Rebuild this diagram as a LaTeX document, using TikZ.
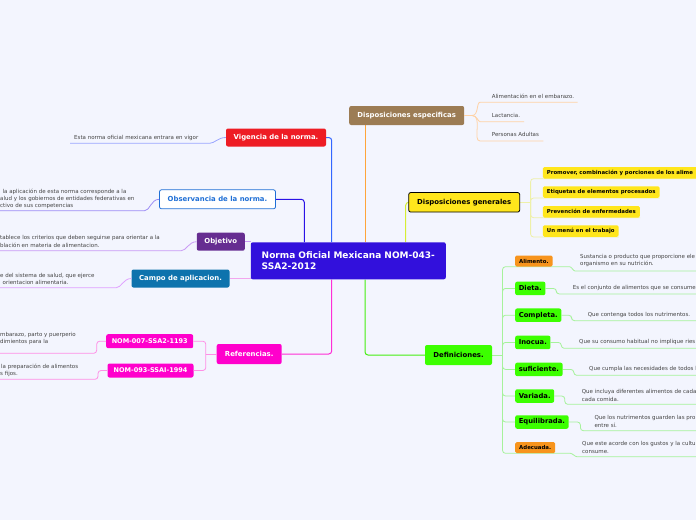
\documentclass[tikz,border=0pt]{standalone}
\usepackage{fontspec}
\setmainfont{DejaVu Sans}
\usetikzlibrary{calc}
\pgfdeclarelayer{back}
\pgfsetlayers{back,main}
\definecolor{bg}{HTML}{F3F5FE}
\definecolor{cenf}{HTML}{3210DC}
\definecolor{redf}{HTML}{EE1C24}
\definecolor{obsb}{HTML}{1F6FD6}
\definecolor{objf}{HTML}{662D91}
\definecolor{campf}{HTML}{0E73AD}
\definecolor{magf}{HTML}{FF00CC}
\definecolor{brownf}{HTML}{9C7C54}
\definecolor{yelf}{HTML}{FFE61C}
\definecolor{grnf}{HTML}{3CFF00}
\definecolor{orgf}{HTML}{F7941D}
\definecolor{txt}{HTML}{444444}
\definecolor{vigc}{HTML}{3366FF}
\definecolor{vigl}{HTML}{9AA6FF}
\definecolor{obsc}{HTML}{2A12E6}
\definecolor{obsl}{HTML}{9C8CF5}
\definecolor{objc}{HTML}{C99AF5}
\definecolor{campc}{HTML}{F2A6EE}
\definecolor{campl}{HTML}{E0A0FF}
\definecolor{refc}{HTML}{FF2ED6}
\definecolor{nomc}{HTML}{FF8FE6}
\definecolor{espc}{HTML}{FFA53A}
\definecolor{espl}{HTML}{FFD2A6}
\definecolor{genc}{HTML}{D6EE35}
\definecolor{genl}{HTML}{EEF0A8}
\definecolor{defc}{HTML}{44EE11}
\definecolor{defl}{HTML}{A6F29B}
\begin{document}
\begin{tikzpicture}[x=1pt,y=-1pt,
  box/.style={rounded corners=2pt, inner sep=0pt, text=white, font=\bfseries\fontsize{6.9}{8}\selectfont},
  ybox/.style={rounded corners=1.5pt, fill=yelf, inner xsep=4pt, inner ysep=0pt, minimum height=11.5pt, text=black, font=\bfseries\fontsize{5.4}{6.5}\selectfont},
  gbox/.style={rounded corners=2pt, fill=grnf, inner xsep=3.6pt, inner ysep=0pt, minimum height=13.5pt, text=black, font=\bfseries\fontsize{6.8}{8}\selectfont},
  obox/.style={rounded corners=1.5pt, fill=orgf, inner xsep=4pt, inner ysep=0pt, minimum height=11pt, text=black, font=\bfseries\fontsize{5.4}{6.5}\selectfont},
  desc/.style={inner sep=0pt, text=txt, font=\fontsize{5.5}{7.2}\selectfont, align=left},
  con/.style={line width=1pt, rounded corners=3pt},
  leaf/.style={line width=0.8pt, rounded corners=3pt}]
\begin{pgfonlayer}{back}
\fill[bg] (0,0) rectangle (696,520);
\end{pgfonlayer}
\useasboundingbox (0,0) rectangle (696,520);

% central
\node[box, fill=cenf, minimum width=195pt, minimum height=37pt, align=left,
  font=\bfseries\fontsize{9}{11}\selectfont] (cen) at (348.3,260.8)
  {Norma Oficial Mexicana NOM-043-\\SSA2-2012};
\coordinate (cenV) at ([xshift=-16.6pt]cen.north);
\coordinate (cenO) at ([xshift=-44pt]cen.north);
\coordinate (cenE) at ([xshift=16.7pt]cen.north);
\coordinate (cenG) at ([xshift=57.4pt]cen.north);
\coordinate (cenR) at ([xshift=-16.6pt]cen.south);
\coordinate (cenD) at ([xshift=16.7pt]cen.south);

% main branches
\node[box, fill=redf, minimum width=100pt, minimum height=18pt] (vig) at (276,137.5) {Vigencia de la norma.};
\node[box, fill=white, draw=obsb, line width=0.8pt, text=obsb, minimum width=116pt, minimum height=19pt] (obs) at (217.5,199.3) {Observancia de la norma.};
\node[box, fill=objf, minimum width=48pt, minimum height=18pt] (obj) at (220.8,241.7) {Objetivo};
\node[box, fill=campf, minimum width=98pt, minimum height=18pt] (campo) at (180.5,278.5) {Campo de aplicacion.};
\node[box, fill=magf, minimum width=65pt, minimum height=20pt] (ref) at (249.2,354) {Referencias.};
\node[box, fill=magf, minimum width=87pt, minimum height=14pt, font=\bfseries\fontsize{6.5}{7.5}\selectfont] (n7) at (149.7,341.2) {NOM-007-SSA2-1193};
\node[box, fill=magf, minimum width=86pt, minimum height=14pt, font=\bfseries\fontsize{6.5}{7.5}\selectfont] (n93) at (150.5,370.5) {NOM-093-SSAI-1994};
\node[box, fill=brownf, minimum width=115pt, minimum height=19pt] (esp) at (406.7,115.5) {Disposiciones especificas};
\node[box, fill=yelf, draw=black, line width=0.8pt, text=black, minimum width=111pt, minimum height=19.5pt] (gen) at (464.2,202.3) {Disposiciones generales};
\node[box, fill=grnf, text=black, minimum width=67pt, minimum height=20pt] (defn) at (458.5,355) {Definiciones.};

\begin{pgfonlayer}{back}
\draw[con, vigc] (vig.east) -| (cenV);
\draw[con, obsc] (obs.east) -| (cenO);
\draw[con, objc] (obj.east) -- (obj.east -| cen.west);
\draw[con, campc] (campo.east) -- (campo.east -| cen.west);
\draw[con, refc] (ref.east) -| (cenR);
\draw[con, espc] (cenE) -- (cenE |- esp.south);
\draw[con, genc] (cenG) |- (gen.west);
\draw[con, defc] (cenD) |- (defn.west);
\end{pgfonlayer}

% left leaves
\node[desc, anchor=west] (tv) at (74,137.7) {Esta norma oficial mexicana entrara en vigor};
\coordinate (tva) at (206.7,143.3); \coordinate (tvb) at (70,143.3);
\draw[leaf, vigl] (vig.west) to[out=180,in=0] (tva) -- (tvb);

\node[desc, anchor=west] (to) at (0,198.6) {\hspace*{2.5pt}la aplicación de esta norma corresponde a la\\alud y los gobiernos de entidades federativas en\\ctivo de sus competencias};
\coordinate (toa) at (141.7,210.7); \coordinate (tob) at (0,210.7);
\draw[leaf, obsl] (obs.west) to[out=180,in=0] (toa) -- (tob);

\node[desc, anchor=west] (tj) at (0,241.5) {tablece los criterios que deben seguirse para orientar a la\\blación en materia de alimentacion.};
\coordinate (tja) at (178.3,250.7); \coordinate (tjb) at (0,250.7);
\draw[leaf, objc] (obj.west) to[out=180,in=0] (tja) -- (tjb);

\node[desc, anchor=west] (tc) at (0,278.6) {e del sistema de salud, que ejerce\\\hspace*{2.5pt}orientacion alimentaria.};
\coordinate (tca) at (113.3,287.7); \coordinate (tcb) at (0,287.7);
\draw[leaf, campl] (campo.west) to[out=180,in=0] (tca) -- (tcb);

\draw[leaf, nomc] (ref.west) -- ++(-10.7,0) coordinate (rj);
\draw[leaf, nomc] (rj) |- (n7.east);
\draw[leaf, nomc] (rj) |- (n93.east);

\node[desc, anchor=west] (t7) at (0,338.2) {mbarazo, parto y puerperio\\dimientos para la};
\coordinate (t7a) at (0,353.3);
\draw[leaf, nomc] (n7.west) -- ++(-9.3,0) |- (t7a);

\node[desc, anchor=west] (t93) at (0,370.5) {\hspace*{1pt}la preparación de alimentos\\s fijos.};
\coordinate (t93a) at (0,379.3);
\draw[leaf, nomc] (n93.west) -- ++(-9.3,0) |- (t93a);

% disposiciones especificas leaves
\draw[leaf, espl] (esp.east) -- ++(7.7,0) coordinate (ej);
\node[desc, anchor=west] (e1) at (491.7,96) {Alimentación en el embarazo.};
\node[desc, anchor=west] (e2) at (491.7,115) {Lactancia.};
\node[desc, anchor=west] (e3) at (491.7,134.7) {Personas Adultas};
\coordinate (e1a) at (483,102.3); \coordinate (e1b) at (577.7,102.3);
\coordinate (e2a) at (483,121.7); \coordinate (e2b) at (524,121.7);
\coordinate (e3a) at (483,141); \coordinate (e3b) at (543.3,141);
\draw[leaf, espl] (ej) to[out=0,in=180] (e1a) -- (e1b);
\draw[leaf, espl] (ej) to[out=0,in=180] (e2a) -- (e2b);
\draw[leaf, espl] (ej) to[out=0,in=180] (e3a) -- (e3b);

% disposiciones generales leaves
\node[ybox, anchor=south west, minimum width=165pt, align=left, text width=157pt] (g1) at (542.7,178.7) {Promover, combinación y porciones de los alime};
\node[ybox, anchor=south west] (g2) at (542.7,198) {Etiquetas de elementos procesados};
\node[ybox, anchor=south west] (g3) at (542.7,217.7) {Prevención de enfermedades};
\node[ybox, anchor=south west] (g4) at (542.7,237) {Un menú en el trabajo};
\begin{pgfonlayer}{back}
\draw[leaf, genl] (gen.east) -- ++(10.5,0) coordinate (gj);
\draw[leaf, genl] (gj) |- (g1.south west) -- (g1.south east);
\draw[leaf, genl] (gj) |- (g2.south west) -- (g2.south east);
\draw[leaf, genl] (gj) |- (g3.south west) -- (g3.south east);
\draw[leaf, genl] (gj) |- (g4.south west) -- (g4.south east);
\end{pgfonlayer}

% definiciones leaves
\node[obox, anchor=south west] (d1) at (515,266.7) {Alimento.};
\node[gbox, anchor=west] (d2) at (515,288.4) {Dieta.};
\node[gbox, anchor=west] (d3) at (515,315.2) {Completa.};
\node[gbox, anchor=west] (d4) at (515,342.4) {Inocua.};
\node[gbox, anchor=west] (d5) at (515,369.4) {suficiente.};
\node[gbox, anchor=west] (d6) at (515,396) {Variada.};
\node[gbox, anchor=west] (d7) at (515,422) {Equilibrada.};
\node[obox, anchor=south west] (d8) at (515,453.3) {Adecuada.};

\node[desc, anchor=west] (x1) at (580,260.8) {Sustancia o producto que proporcione ele\\organismo en su nutrición.};
\node[desc, anchor=west] (x2) at (572.7,287.7) {Es el conjunto de alimentos que se consume};
\node[desc, anchor=west] (x3) at (587.7,315) {Que contenga todos los nutrimentos.};
\node[desc, anchor=west] (x4) at (579,341.7) {Que su consumo habitual no implique ries};
\node[desc, anchor=west] (x5) at (589,369) {Que cumpla las necesidades de todos l};
\node[desc, anchor=west] (x6) at (581.7,395.5) {Que incluya diferentes alimentos de cada\\cada comida.};
\node[desc, anchor=west] (x7) at (594.3,421.5) {Que los nutrimentos guarden las pro\\entre sí.};
\node[desc, anchor=west] (x8) at (582,447.5) {Que este acorde con los gustos y la cultu\\consume.};

\coordinate (u1a) at (578,271); \coordinate (u1b) at (700,271);
\coordinate (u2) at (700,294);
\coordinate (u3) at (700,320.7);
\coordinate (u4) at (700,348.3);
\coordinate (u5) at (700,375.3);
\coordinate (u6) at (700,404.3);
\coordinate (u7) at (700,430.7);
\coordinate (u8a) at (580,456.7); \coordinate (u8b) at (700,456.7);

\begin{pgfonlayer}{back}
\draw[leaf, defl] (defn.east) -- ++(10.3,0) coordinate (dj);
\draw[leaf, defl] (dj) |- (d1.south west) -- (d1.south east) -- ++(14,0) to[out=0,in=180] (u1a) -- (u1b);
\draw[leaf, defl] (dj) |- (d2.west);
\draw[leaf, defl] (dj) |- (d3.west);
\draw[leaf, defl] (dj) |- (d4.west);
\draw[leaf, defl] (dj) |- (d5.west);
\draw[leaf, defl] (dj) |- (d6.west);
\draw[leaf, defl] (dj) |- (d7.west);
\draw[leaf, defl] (dj) |- (d8.south west) -- (d8.south east) -- ++(12,0) to[out=0,in=180] (u8a) -- (u8b);
\draw[leaf, defl] (d2.east) -- ++(10.7,0) |- (u2);
\draw[leaf, defl] (d3.east) -- ++(10,0) |- (u3);
\draw[leaf, defl] (d4.east) -- ++(10.6,0) |- (u4);
\draw[leaf, defl] (d5.east) -- ++(11,0) |- (u5);
\draw[leaf, defl] (d6.east) -- ++(10.4,0) |- (u6);
\draw[leaf, defl] (d7.east) -- ++(11.6,0) |- (u7);
\end{pgfonlayer}
\end{tikzpicture}
\end{document}
